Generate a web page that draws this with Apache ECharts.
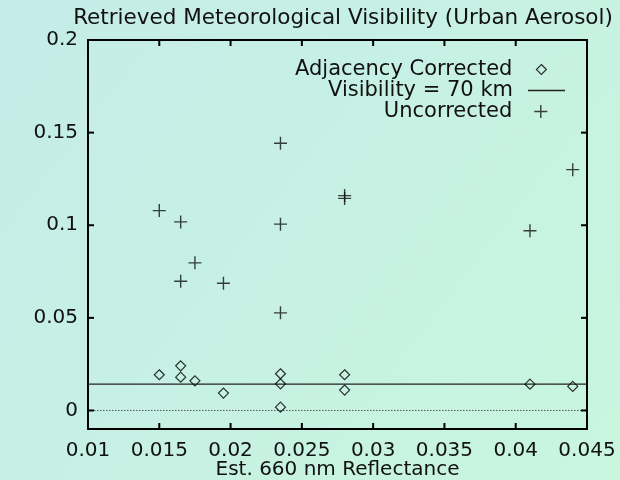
<!DOCTYPE html>
<html style="height: 100%">

<head>
    <meta charset="utf-8">
</head>

<body style="height: 100%;width: 100%;margin: 0;">
    <div id="container" style="height: 480px;width: 620px;"></div>
    <script type="text/javascript" src="https://cdn.jsdelivr.net/npm/echarts@6/dist/echarts.min.js"></script>
    <script type="text/javascript">
        // reflectance (x) and retrieved visibility (y)
        var corrX = [0.015, 0.0165, 0.0165, 0.0175, 0.0195, 0.0235, 0.0235, 0.0235, 0.028, 0.028, 0.041, 0.044];
        var corrY = [0.0193, 0.0241, 0.018, 0.016, 0.0094, 0.0198, 0.0144, 0.0018, 0.0193, 0.011, 0.0142, 0.013];
        var uncX = [0.015, 0.0165, 0.0165, 0.0175, 0.0195, 0.0235, 0.0235, 0.0235, 0.028, 0.028, 0.041, 0.044];
        var uncY = [0.1079, 0.1018, 0.0698, 0.0797, 0.0687, 0.1443, 0.1006, 0.0527, 0.116, 0.1145, 0.097, 0.130];
        var visX = [0.01, 0.045];
        var visY = [0.0142, 0.0142];
        var zeroX = [0.01, 0.045];
        var zeroY = [0, 0];
        var xTicks = [0.015, 0.02, 0.025, 0.03, 0.035, 0.04];
        var yTicks = [0, 0.05, 0.1, 0.15, 0.2];

        function pairs(xs, ys) {
            return xs.map(function (x, i) { return [x, ys[i]]; });
        }

        var font = 'DejaVu Sans';
        var dom = document.getElementById("container");
        var myChart = echarts.init(dom);

        var frame = { show: true, onZero: false, lineStyle: { color: '#000', width: 2 } };
        var diamond = 'path://M5,0L10,5L5,10L0,5Z';
        var plus = 'path://M0,5L10,5M5,0L5,10';
        var diamondStyle = { color: 'transparent', borderColor: '#000', borderWidth: 1.2 };
        var plusStyle = { color: 'transparent', borderColor: '#111', borderWidth: 1.4 };
        var tickLen = 6;
        var tickFill = { fill: '#000' };

        // inward mirrored ticks, placed through the axis scales (drawn as thin rects)
        function xTickItem(params, api) {
            var cs = params.coordSys;
            var x = api.coord([api.value(0), 0])[0];
            var b = cs.y + cs.height, t = cs.y;
            return {
                type: 'group', children: [
                    { type: 'rect', shape: { x: x - 1, y: b - tickLen, width: 2, height: tickLen }, style: tickFill },
                    { type: 'rect', shape: { x: x - 1, y: t, width: 2, height: tickLen }, style: tickFill }
                ]
            };
        }
        function yTickItem(params, api) {
            var cs = params.coordSys;
            var y = api.coord([0.01, api.value(1)])[1];
            var l = cs.x, r = cs.x + cs.width;
            return {
                type: 'group', children: [
                    { type: 'rect', shape: { x: l, y: y - 1, width: tickLen, height: 2 }, style: tickFill },
                    { type: 'rect', shape: { x: r - tickLen, y: y - 1, width: tickLen, height: 2 }, style: tickFill }
                ]
            };
        }

        var option = {
            animation: false,
            backgroundColor: {
                type: 'linear', x: 0, y: 0, x2: 1, y2: 1,
                colorStops: [{ offset: 0, color: '#c5ece9' }, { offset: 1, color: '#c8f6de' }]
            },
            textStyle: { fontFamily: font },
            title: {
                text: 'Retrieved Meteorological Visibility (Urban Aerosol)',
                left: 338, top: 2, textAlign: 'center',
                textStyle: { fontFamily: font, fontSize: 21.5, fontWeight: 'normal', color: '#111' }
            },
            legend: [{
                data: [{ name: 'Adjacency Corrected', icon: diamond, itemStyle: diamondStyle }],
                orient: 'vertical', align: 'right',
                right: 73, top: 59, padding: 0, itemWidth: 10, itemHeight: 10,
                textStyle: { fontFamily: font, fontSize: 21, color: '#111', padding: [0, 19, 0, 0] }
            }, {
                data: [{ name: 'Visibility = 70 km', icon: 'rect', itemStyle: { color: '#222', borderWidth: 0 } }],
                orient: 'vertical', align: 'right',
                right: 55, top: 80, padding: 0, itemWidth: 37, itemHeight: 1.3,
                textStyle: { fontFamily: font, fontSize: 21, color: '#111', padding: [0, 10, 0, 0] }
            }, {
                data: [{ name: 'Uncorrected', icon: plus, itemStyle: plusStyle }],
                orient: 'vertical', align: 'right',
                right: 72, top: 101, padding: 0, itemWidth: 13, itemHeight: 13,
                textStyle: { fontFamily: font, fontSize: 21, color: '#111', padding: [0, 17, 0, 0] }
            }],
            grid: { left: 88, right: 33, top: 40, bottom: 51, outerBoundsMode: 'none' },
            xAxis: [{
                type: 'value', min: 0.01, max: 0.045, interval: 0.005,
                name: 'Est. 660 nm Reflectance', nameLocation: 'middle', nameGap: 31, nameMoveOverlap: false,
                nameTextStyle: { fontFamily: font, fontSize: 20, color: '#111' },
                axisLine: frame, axisTick: { show: false }, splitLine: { show: false },
                axisLabel: {
                    margin: 12, fontFamily: font, fontSize: 20, color: '#111',
                    formatter: function (v) { return String(parseFloat(v.toFixed(4))); }
                }
            }, {
                type: 'value', position: 'top', min: 0.01, max: 0.045, interval: 0.005,
                axisLine: frame, axisTick: { show: false }, splitLine: { show: false },
                axisLabel: { show: false }
            }],
            yAxis: [{
                type: 'value', min: -0.01, max: 0.2,
                axisLine: frame, splitLine: { show: false },
                axisTick: { show: false },
                axisLabel: {
                    margin: 10, fontFamily: font, fontSize: 20, color: '#111', customValues: yTicks,
                    formatter: function (v) { return String(parseFloat(v.toFixed(4))); }
                }
            }, {
                type: 'value', position: 'right', min: -0.01, max: 0.2,
                axisLine: frame, splitLine: { show: false },
                axisTick: { show: false },
                axisLabel: { show: false }
            }],
            series: [{
                name: 'Adjacency Corrected',
                type: 'scatter',
                symbol: diamond,
                symbolSize: 10,
                itemStyle: diamondStyle,
                data: pairs(corrX, corrY),
                z: 5
            }, {
                name: 'Visibility = 70 km',
                type: 'line',
                symbol: 'none',
                lineStyle: { color: '#222', width: 1.2 },
                data: pairs(visX, visY),
                z: 3
            }, {
                name: 'Uncorrected',
                type: 'scatter',
                symbol: plus,
                symbolSize: 13,
                itemStyle: plusStyle,
                data: pairs(uncX, uncY),
                z: 5
            }, {
                name: 'zero',
                type: 'line',
                symbol: 'none',
                silent: true,
                lineStyle: { color: '#555', width: 1, type: [1.5, 1.5] },
                data: pairs(zeroX, zeroY),
                z: 2
            }, {
                name: 'xticks',
                type: 'custom',
                silent: true,
                renderItem: xTickItem,
                encode: { x: 0, y: 1 },
                data: xTicks.map(function (v) { return [v, 0]; }),
                z: 6
            }, {
                name: 'yticks',
                type: 'custom',
                silent: true,
                renderItem: yTickItem,
                encode: { x: 0, y: 1 },
                data: yTicks.slice(0, 4).map(function (v) { return [0.02, v]; }),
                z: 6
            }]
        };

        myChart.setOption(option);
        window.onresize = myChart.resize;
    </script>
</body>

</html>
